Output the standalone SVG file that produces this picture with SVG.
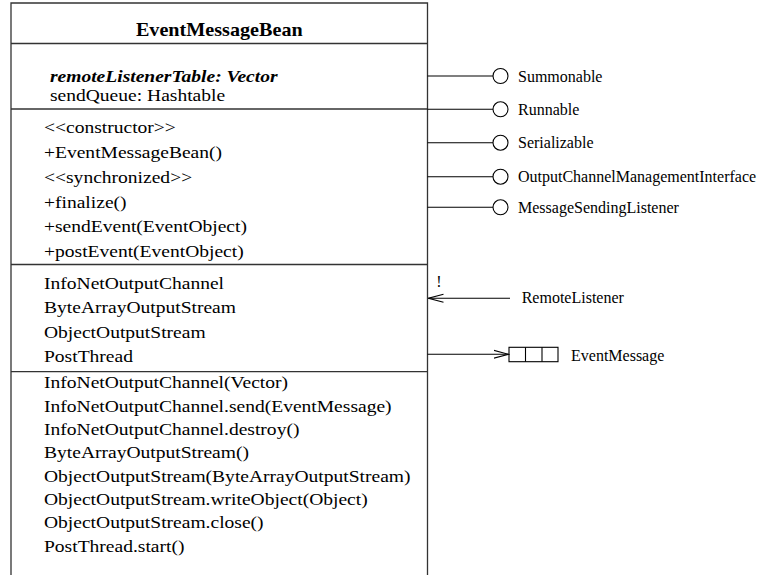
<svg xmlns="http://www.w3.org/2000/svg" width="762" height="575" viewBox="0 0 762 575">
  <style>
    .frame { fill: none; stroke: #333; stroke-width: 1.3; }
    .wire { fill: none; stroke: #000; stroke-width: 1.1; }
    .lollipop { fill: #fff; stroke: #000; stroke-width: 1.1; }
    .body { font-family: "Liberation Serif", "Times New Roman", serif; font-size: 17px; fill: #000; }
    .title { font-family: "Liberation Serif", "Times New Roman", serif; font-size: 18px; font-weight: bold; fill: #000; }
    .attr-key { font-weight: bold; font-style: italic; }
    .label { font-family: "Liberation Serif", "Times New Roman", serif; font-size: 16px; fill: #000; }
  </style>
  <defs>
    <marker id="open-arrow" viewBox="0 0 16 10" refX="15" refY="5" markerWidth="16" markerHeight="10" markerUnits="userSpaceOnUse" orient="auto">
      <path d="M0,1 L15,5 L0,9" fill="none" stroke="#000" stroke-width="1.1"/>
    </marker>
  </defs>
  <rect width="762" height="575" fill="#fff"/>

  <!-- class box: EventMessageBean -->
  <g id="EventMessageBean">
    <path class="frame" d="M11,576 V3 H427.5 V576"/>
    <line class="frame" x1="11" y1="43.5" x2="427.5" y2="43.5"/>
    <line class="frame" x1="11" y1="109" x2="427.5" y2="109"/>
    <line class="frame" x1="11" y1="264.5" x2="427.5" y2="264.5"/>
    <line class="frame" x1="11" y1="371.7" x2="427.5" y2="371.7"/>
    <text class="title" text-anchor="middle" transform="translate(219.3,36) scale(1.12,1)">EventMessageBean</text>
    <g class="body" transform="translate(44,0) scale(1.15,1)">
      <text x="5.2" y="82.5" class="attr-key">remoteListenerTable: Vector</text>
      <text x="5.2" y="101">sendQueue: Hashtable</text>

      <text x="0" y="133.5">&lt;&lt;constructor&gt;&gt;</text>
      <text x="0" y="158.2">+EventMessageBean()</text>
      <text x="0" y="182.9">&lt;&lt;synchronized&gt;&gt;</text>
      <text x="0" y="207.6">+finalize()</text>
      <text x="0" y="232.3">+sendEvent(EventObject)</text>
      <text x="0" y="257">+postEvent(EventObject)</text>

      <text x="0" y="289">InfoNetOutputChannel</text>
      <text x="0" y="313.3">ByteArrayOutputStream</text>
      <text x="0" y="337.6">ObjectOutputStream</text>
      <text x="0" y="362">PostThread</text>

      <text x="0" y="388.3">InfoNetOutputChannel(Vector)</text>
      <text x="0" y="411.7">InfoNetOutputChannel.send(EventMessage)</text>
      <text x="0" y="435">InfoNetOutputChannel.destroy()</text>
      <text x="0" y="458.3">ByteArrayOutputStream()</text>
      <text x="0" y="481.7">ObjectOutputStream(ByteArrayOutputStream)</text>
      <text x="0" y="505">ObjectOutputStream.writeObject(Object)</text>
      <text x="0" y="528.3">ObjectOutputStream.close()</text>
      <text x="0" y="551.7">PostThread.start()</text>
    </g>
  </g>

  <!-- provided interfaces (lollipops) -->
  <g id="Summonable">
    <circle class="lollipop" cx="500.5" cy="76" r="7.5"/>
    <text class="label" x="518" y="81.5">Summonable</text>
  </g>
  <g id="Runnable">
    <circle class="lollipop" cx="500.5" cy="109.3" r="7.5"/>
    <text class="label" x="518" y="114.8">Runnable</text>
  </g>
  <g id="Serializable">
    <circle class="lollipop" cx="500.5" cy="142.7" r="7.5"/>
    <text class="label" x="518" y="148.2">Serializable</text>
  </g>
  <g id="OutputChannelManagementInterface">
    <circle class="lollipop" cx="500.5" cy="176.7" r="7.5"/>
    <text class="label" x="518" y="182.2">OutputChannelManagementInterface</text>
  </g>
  <g id="MessageSendingListener">
    <circle class="lollipop" cx="500.5" cy="207.3" r="7.5"/>
    <text class="label" x="518" y="212.8">MessageSendingListener</text>
  </g>

  <!-- incoming listener -->
  <g id="RemoteListener">
    <text class="label" x="521.7" y="302.8">RemoteListener</text>
  </g>

  <!-- outgoing queue -->
  <g id="EventMessage">
    <rect class="lollipop" x="509" y="347.3" width="49" height="14.4"/>
    <line class="wire" x1="525.5" y1="347.3" x2="525.5" y2="361.7"/>
    <line class="wire" x1="542" y1="347.3" x2="542" y2="361.7"/>
    <text class="label" x="571" y="360.7">EventMessage</text>
  </g>

  <!-- connectors -->
  <g id="connectors">
    <line class="wire" x1="427.5" y1="76" x2="493" y2="76"/>
    <line class="wire" x1="427.5" y1="109.3" x2="493" y2="109.3"/>
    <line class="wire" x1="427.5" y1="142.7" x2="493" y2="142.7"/>
    <line class="wire" x1="427.5" y1="176.7" x2="493" y2="176.7"/>
    <line class="wire" x1="427.5" y1="207.3" x2="493" y2="207.3"/>
    <line class="wire" x1="510" y1="298.3" x2="428.5" y2="298.3" marker-end="url(#open-arrow)"/>
    <text class="label" x="439" y="287.3" text-anchor="middle" font-size="13" fill="#000">!</text>
    <line class="wire" x1="427.5" y1="354.3" x2="508.5" y2="354.3" marker-end="url(#open-arrow)"/>
  </g>
</svg>
